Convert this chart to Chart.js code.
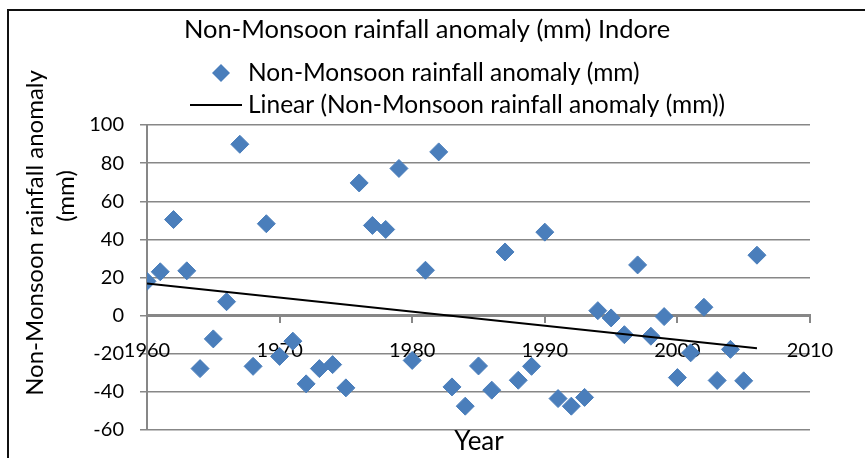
<!DOCTYPE html>
<html>
<head>
<meta charset="utf-8">
<script src="https://cdn.jsdelivr.net/npm/chart.js@4/dist/chart.umd.min.js"></script>
<style>
  html, body { margin: 0; padding: 0; background: #fff; }
  #wrap { width: 865px; height: 458px; position: relative; }
</style>
</head>
<body>
<div id="wrap"><canvas id="rainChart"></canvas></div>
<script>
// Data
const years = [1960, 1961, 1962, 1963, 1964, 1965, 1966, 1967, 1968, 1969,
               1970, 1971, 1972, 1973, 1974, 1975, 1976, 1977, 1978, 1979,
               1980, 1981, 1982, 1983, 1984, 1985, 1986, 1987, 1988, 1989,
               1990, 1991, 1992, 1993, 1994, 1995, 1996, 1997, 1998, 1999,
               2000, 2001, 2002, 2003, 2004, 2005, 2006];
const anomaly = [18, 23, 50.4, 23.5, -27.8, -12.2, 7.3, 89.9, -26.6, 48.2,
                 -21.4, -13.4, -35.8, -27.8, -25.7, -37.9, 69.6, 47.3, 45.2, 77.2,
                 -23.5, 23.8, 85.9, -37.4, -47.5, -26.4, -39.1, 33.4, -33.9, -26.6,
                 43.8, -43.5, -47.5, -42.9, 2.6, -1.2, -10, 26.6, -10.8, -0.5,
                 -32.5, -19.5, 4.4, -34, -17.7, -34.2, 31.7];
const xTicks = [1960, 1970, 1980, 1990, 2000, 2010];
const yTicks = [-60, -40, -20, 0, 20, 40, 60, 80, 100];

const chartTitle = 'Non-Monsoon rainfall anomaly (mm) Indore';
const seriesName = 'Non-Monsoon rainfall anomaly (mm)';
const trendName = 'Linear (Non-Monsoon rainfall anomaly (mm))';
const yTitle = ['Non-Monsoon rainfall anomaly', '(mm)'];
const xTitle = 'Year';

const FONT = 'Lato, "Open Sans", sans-serif';
const BLUE = '#4a7ebb';
const GRID = '#878787';

// Least-squares trend line, like the spreadsheet's linear trendline
function linearFit(xs, ys) {
    const n = xs.length;
    const mx = xs.reduce((a, b) => a + b, 0) / n;
    const my = ys.reduce((a, b) => a + b, 0) / n;
    let sxy = 0, sxx = 0;
    for (let i = 0; i < n; i++) {
        sxy += (xs[i] - mx) * (ys[i] - my);
        sxx += (xs[i] - mx) * (xs[i] - mx);
    }
    const slope = sxy / sxx;
    return x => my + slope * (x - mx);
}
const fit = linearFit(years, anomaly);
const firstYear = years[0];
const lastYear = years[years.length - 1];

function drawDiamond(ctx, x, y, r) {
    ctx.beginPath();
    ctx.moveTo(x - r, y);
    ctx.lineTo(x, y - r);
    ctx.lineTo(x + r, y);
    ctx.lineTo(x, y + r);
    ctx.closePath();
    ctx.fill();
}

// Frame, title, legend and axis titles
const decorPlugin = {
    id: 'decor',
    afterDraw(chart) {
        const ctx = chart.ctx;
        ctx.save();

        // outer frame (top and left edges)
        ctx.strokeStyle = '#111';
        ctx.lineWidth = 2;
        ctx.beginPath();
        ctx.moveTo(865, 10);
        ctx.lineTo(8, 10);
        ctx.lineTo(8, 458);
        ctx.stroke();

        ctx.fillStyle = '#000';
        ctx.textBaseline = 'middle';

        // title
        ctx.font = '25.5px ' + FONT;
        ctx.textAlign = 'center';
        ctx.fillText(chartTitle, 427, 30);

        // legend
        ctx.font = '24.5px ' + FONT;
        ctx.textAlign = 'left';
        ctx.fillStyle = BLUE;
        drawDiamond(ctx, 221, 73, 9);
        ctx.fillStyle = '#000';
        ctx.fillText(seriesName, 248, 73);

        ctx.strokeStyle = '#000';
        ctx.lineWidth = 2;
        ctx.beginPath();
        ctx.moveTo(190, 105);
        ctx.lineTo(242, 105);
        ctx.stroke();
        ctx.fillText(trendName, 248, 105);

        // y axis title
        ctx.textAlign = 'center';
        ctx.font = '24px ' + FONT;
        ctx.save();
        ctx.translate(35, 233);
        ctx.rotate(-Math.PI / 2);
        ctx.fillText(yTitle[0], 0, 0);
        ctx.restore();
        ctx.save();
        ctx.translate(66, 196);
        ctx.rotate(-Math.PI / 2);
        ctx.fillText(yTitle[1], 0, 0);
        ctx.restore();

        // x axis title
        ctx.font = '26px ' + FONT;
        ctx.fillText(xTitle, 479, 442);

        ctx.restore();
    }
};

const ctx = document.getElementById('rainChart');
new Chart(ctx, {
    type: 'scatter',
    data: {
        datasets: [{
            label: trendName,
            data: [{ x: firstYear, y: fit(firstYear) }, { x: lastYear, y: fit(lastYear) }],
            showLine: true,
            borderColor: '#000',
            borderWidth: 2,
            pointRadius: 0,
            order: 0
        }, {
            label: seriesName,
            data: years.map((yr, i) => ({ x: yr, y: anomaly[i] })),
            pointStyle: 'rectRot',
            pointRadius: 9,
            pointBackgroundColor: BLUE,
            pointBorderColor: BLUE,
            pointBorderWidth: 1,
            order: 1
        }]
    },
    options: {
        responsive: true,
        maintainAspectRatio: false,
        animation: false,
        layout: {
            padding: { top: 125, right: 55, bottom: 26, left: 0 }
        },
        plugins: {
            legend: { display: false },
            title: { display: false },
            tooltip: { enabled: false }
        },
        scales: {
            x: {
                type: 'linear',
                position: { y: 0 },
                min: xTicks[0],
                max: xTicks[xTicks.length - 1],
                afterBuildTicks: scale => {
                    scale.ticks = xTicks.map(v => ({ value: v }));
                },
                ticks: {
                    callback: v => String(v),
                    color: '#000',
                    padding: 17,
                    maxRotation: 0,
                    font: { family: FONT, size: 20 }
                },
                grid: {
                    drawOnChartArea: false,
                    drawTicks: true,
                    tickLength: 6,
                    color: GRID,
                    lineWidth: 2
                },
                border: { display: true, color: GRID, width: 3 }
            },
            y: {
                min: yTicks[0],
                max: yTicks[yTicks.length - 1],
                afterBuildTicks: scale => {
                    scale.ticks = yTicks.map(v => ({ value: v }));
                },
                afterFit: scale => {
                    scale.width = 147;
                },
                ticks: {
                    color: '#000',
                    padding: 16,
                    font: { family: FONT, size: 20 }
                },
                grid: {
                    color: GRID,
                    lineWidth: 1.5,
                    tickLength: 7
                },
                border: { display: true, color: GRID, width: 2 }
            }
        }
    },
    plugins: [decorPlugin]
});
</script>
</body>
</html>
